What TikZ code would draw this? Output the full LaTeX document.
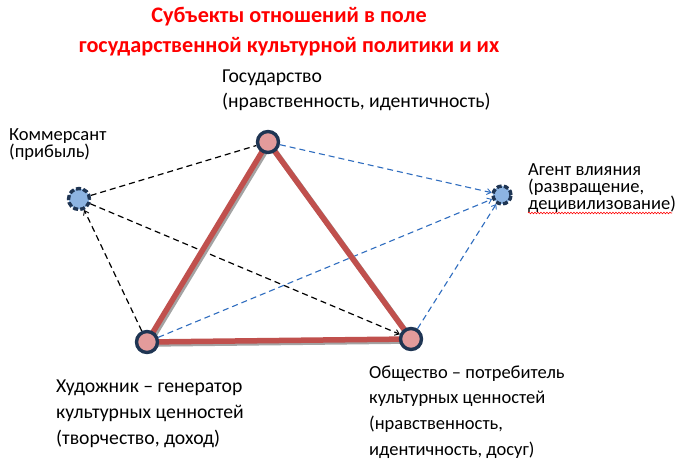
\documentclass[tikz,border=0pt]{standalone}
\usepackage{fontspec}
\setmainfont{Carlito}
\usetikzlibrary{arrows.meta,backgrounds,decorations.pathmorphing}
\definecolor{titlered}{HTML}{FF0000}
\definecolor{linered}{HTML}{C0504D}
\definecolor{shadowgray}{HTML}{A3A3A3}
\definecolor{navy}{HTML}{1F3553}
\definecolor{pinkfill}{HTML}{E39B9B}
\definecolor{bluefill}{HTML}{8DB4E2}
\definecolor{dashblue}{HTML}{2F6DBF}
\tikzset{
  rnode/.style={circle,fill=pinkfill,draw=navy,line width=3.4pt,minimum size=21pt,inner sep=0pt},
  bnode/.style={circle,fill=bluefill,draw=navy,line width=3.4pt,dash pattern=on 5pt off 2.2pt,minimum size=21pt,inner sep=0pt},
  blackdash/.style={draw=black,line width=1.2pt,dash pattern=on 6pt off 4pt},
  bluedash/.style={draw=dashblue,line width=1.1pt,dash pattern=on 6pt off 4pt},
  tip/.style={-{Straight Barb[length=4pt,width=6pt,line width=0.9pt]}},
  redline/.style={draw=linered,line width=5.5pt,line cap=round,line join=round},
  shadowline/.style={draw=shadowgray,line width=5.5pt,line cap=round,line join=round},
  lbl/.style={anchor=base west,inner sep=0pt,font=\fontsize{18.5}{22}\selectfont},
  lblbig/.style={lbl,font=\fontsize{19.7}{24}\selectfont},
  ttl/.style={anchor=base,inner sep=0pt,text=titlered,font=\fontsize{22.2}{26}\selectfont\bfseries},
}
\begin{document}
\begin{tikzpicture}[x=1pt,y=-1pt]
\useasboundingbox (0,0) rectangle (680,465);
% nodes
\node[rnode] (gos) at (268,142) {};
\node[rnode] (khu) at (147,342) {};
\node[rnode] (obs) at (411,339) {};
\node[bnode] (kom) at (79,199) {};
\node[bnode,minimum size=18pt] (agt) at (502,195) {};
\begin{scope}[on background layer]
  \fill[white] (0,0) rectangle (680,465);
  % dashed connectors
  \draw[blackdash] (kom) -- (gos);
  \draw[blackdash,tip] (kom) -- (obs);
  \draw[blackdash,tip] (khu) -- (kom);
  \draw[bluedash,tip] (gos) -- (agt);
  \draw[bluedash,tip] (khu) -- (agt);
  \draw[bluedash,tip] (obs) -- (agt);
  % red triangle with shadow
  \draw[shadowline] ([shift={(1.8,2)}]gos.center) -- ([shift={(1.8,2)}]obs.center) -- ([shift={(1.8,2)}]khu.center) -- cycle;
  \draw[redline] (gos.center) -- (obs.center) -- (khu.center) -- cycle;
\end{scope}
% title
\node[ttl] (t1) at (289,23) {Субъекты отношений в поле};
\node[ttl] (t2) at (289,53) {государственной культурной политики и их};
% labels
\node[lblbig] (g1) at (222,83) {Государство};
\node[lblbig] (g2) at (222,108) {(нравственность, идентичность)};
\node[lbl] (k1) at (9,141) {Коммерсант};
\node[lbl] (k2) at (9,158) {(прибыль)};
\node[lbl] (a1) at (528,176) {Агент влияния};
\node[lbl] (a2) at (528,193) {(развращение,};
\node[lbl] (a3) at (528,210) {децивилизование)};
\draw[draw=red,line width=0.6pt,decorate,decoration={snake,amplitude=0.8pt,segment length=3pt}] ([yshift=-3pt]a3.base west) -- ([yshift=-3pt,xshift=-4pt]a3.base east);
\node[lblbig] (h1) at (56,392) {Художник – генератор};
\node[lblbig] (h2) at (56,418) {культурных ценностей};
\node[lblbig] (h3) at (56,444) {(творчество, доход)};
\node[lbl] (o1) at (369,378) {Общество – потребитель};
\node[lbl] (o2) at (369,403) {культурных ценностей};
\node[lbl] (o3) at (369,429) {(нравственность,};
\node[lbl] (o4) at (369,455) {идентичность, досуг)};
\end{tikzpicture}
\end{document}
